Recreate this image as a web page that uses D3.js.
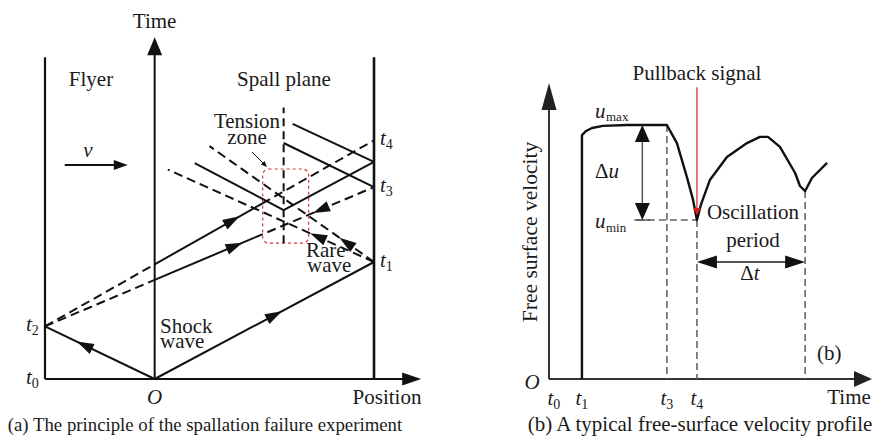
<!DOCTYPE html>
<html>
<head>
<meta charset="utf-8">
<script src="https://cdn.jsdelivr.net/npm/d3@7"></script>
<style>
  body { margin: 0; background: #fff; }
  text { font-family: "Liberation Serif", "Times New Roman", serif; fill: #1a1a1a; }
</style>
</head>
<body>
<svg id="chart" width="880" height="441"></svg>
<script>
// ---------- panel (a): position–time diagram ----------
// position in units of flyer thickness (flyer back = -1, impact face = 0, free surface = 2)
// time in units of t1 (shock arrival at free surface)
const solidWaves = [
  [[0, 0], [2, 1.0]],                          // shock into target
  [[0, 0], [-1, 0.45]],                        // shock into flyer
  [[0, 0.98], [0.98, 1.499]],
  [[0, 0.847], [0.91, 1.208]],
  [[0.365, 1.846], [1.176, 1.444], [2, 1.855]],
  [[1.258, 2.18], [2, 1.855]],
  [[1.176, 2.017], [2, 1.64]]
];
const dashedWaves = [
  [[-1, 0.45], [0, 0.98]],
  [[0.98, 1.499], [2, 2.04]],
  [[-1, 0.45], [0, 0.847]],
  [[0.91, 1.208], [2, 1.64]],
  [[2, 1.0], [0.50, 1.99]],                    // rarefaction from t1
  [[2, 1.0], [0.12, 1.79]]
];
const spallPlane = [[1.176, 1.16], [1.176, 2.32]];
const tensionZone = [[0.985, 1.162], [1.404, 1.795]];
// arrow heads: segment (direction of travel) and fraction along it
const waveArrows = [
  { seg: [[0, 0], [2, 1.0]], at: 0.58 },
  { seg: [[0, 0], [-1, 0.45]], at: 0.71 },
  { seg: [[0, 0.98], [0.98, 1.499]], at: 0.79 },
  { seg: [[0, 0.847], [0.91, 1.208]], at: 0.88 },
  { seg: [[2, 1.64], [0.91, 1.208]], at: 0.51 },
  { seg: [[2, 1.0], [0.50, 1.99]], at: 0.21 },
  { seg: [[2, 1.0], [0.12, 1.79]], at: 0.31 }
];
const timeMarksA = ["0", "2", "1", "3", "4"];
const timeMarksAt = [0, 0.45, 1.0, 1.64, 2.04];

// ---------- panel (b): free-surface velocity profile ----------
const profileTime = [1.02, 1.02, 1.15, 1.33, 1.67, 2.41, 3.65, 3.96, 4.27, 4.46, 4.58, 4.71,
  4.98, 5.51, 6.13, 6.53, 6.78, 7.15, 7.62, 7.77, 7.93, 8.14, 8.61];
const profileVel = [0, 8.24, 8.38, 8.48, 8.55, 8.58, 8.58, 7.97, 6.82, 6.05, 5.37, 5.91,
  6.72, 7.50, 7.97, 8.18, 8.18, 7.84, 6.96, 6.52, 6.35, 6.79, 7.30];
const uMax = 8.58, uMin = 5.37;
const t3 = 3.65, t4 = 4.58, tNext = 7.93;
const timeTickNames = ["0", "1", "3", "4"];
const timeTickAt = [0.15, 1.02, 3.65, 4.58];

const svg = d3.select("#chart");
svg.append("rect").attr("width", 880).attr("height", 441).attr("fill", "#fff");

function head(g, x0, y0, x1, y1, at, len, hw, color) {
  const tx = x0 + (x1 - x0) * at, ty = y0 + (y1 - y0) * at;
  const a = Math.atan2(y1 - y0, x1 - x0);
  const c = Math.cos(a), s = Math.sin(a);
  const bx = tx - len * c, by = ty - len * s;
  g.append("polygon")
    .attr("points", [[tx, ty], [bx - hw * s, by + hw * c], [bx + hw * s, by - hw * c]].map(p => p.join(",")).join(" "))
    .attr("fill", color);
}

function label(g, x, y, main, sub, anchor) {
  const t = g.append("text").attr("x", x).attr("y", y)
    .attr("text-anchor", anchor || "start").style("font-size", "21px");
  t.append("tspan").style("font-style", "italic").text(main);
  if (sub) t.append("tspan").attr("dy", 4).style("font-size", "14px").style("font-style", "normal").text(sub);
  return t;
}

function plain(g, x, y, s, anchor, size) {
  return g.append("text").attr("x", x).attr("y", y).attr("text-anchor", anchor || "middle")
    .style("font-size", (size || 21) + "px").text(s);
}

// ---- draw (a)
const xa = d3.scaleLinear().domain([-1, 2]).range([45, 374]);
const ya = d3.scaleLinear().domain([0, 3]).range([379, 28]);
const ga = svg.append("g");
const lineA = d3.line().x(d => xa(d[0])).y(d => ya(d[1]));

// frame
ga.append("line").attr("x1", xa(-1)).attr("x2", xa(-1)).attr("y1", ya(0)).attr("y2", ya(2.75))
  .attr("stroke", "#111").attr("stroke-width", 2.2);
ga.append("line").attr("x1", xa(2)).attr("x2", xa(2)).attr("y1", ya(0)).attr("y2", ya(2.75))
  .attr("stroke", "#111").attr("stroke-width", 2.6);
ga.append("line").attr("x1", xa(0)).attr("x2", xa(0)).attr("y1", ya(0)).attr("y2", ya(2.78))
  .attr("stroke", "#111").attr("stroke-width", 2);
head(ga, xa(0), ya(0), xa(0), ya(2.92), 1, 18, 7.5, "#111");
ga.append("line").attr("x1", xa(-1)).attr("x2", xa(2.3)).attr("y1", ya(0)).attr("y2", ya(0))
  .attr("stroke", "#111").attr("stroke-width", 2.2);
head(ga, xa(-1), ya(0), xa(2.43), ya(0), 1, 19, 6.5, "#111");

// tension zone box
ga.append("rect")
  .attr("x", xa(tensionZone[0][0])).attr("y", ya(tensionZone[1][1]))
  .attr("width", xa(tensionZone[1][0]) - xa(tensionZone[0][0]))
  .attr("height", ya(tensionZone[0][1]) - ya(tensionZone[1][1]))
  .attr("rx", 6).attr("fill", "none").attr("stroke", "#d23c3c")
  .attr("stroke-width", 1.2).attr("stroke-dasharray", "3,3");

ga.append("path").attr("d", lineA(spallPlane)).attr("fill", "none")
  .attr("stroke", "#111").attr("stroke-width", 2).attr("stroke-dasharray", "8,5");

solidWaves.forEach(w => ga.append("path").attr("d", lineA(w)).attr("fill", "none")
  .attr("stroke", "#111").attr("stroke-width", 2));
dashedWaves.forEach(w => ga.append("path").attr("d", lineA(w)).attr("fill", "none")
  .attr("stroke", "#111").attr("stroke-width", 2).attr("stroke-dasharray", "9,5"));
waveArrows.forEach(a => head(ga, xa(a.seg[0][0]), ya(a.seg[0][1]), xa(a.seg[1][0]), ya(a.seg[1][1]),
  a.at, 17, 5.5, "#111"));

// flyer velocity arrow
ga.append("line").attr("x1", xa(-0.82)).attr("x2", xa(-0.3)).attr("y1", ya(1.83)).attr("y2", ya(1.83))
  .attr("stroke", "#111").attr("stroke-width", 2);
head(ga, xa(-0.82), ya(1.83), xa(-0.245), ya(1.83), 1, 14, 5, "#111");

// tension zone pointer
ga.append("line").attr("x1", 252).attr("y1", 152).attr("x2", 264).attr("y2", 164)
  .attr("stroke", "#111").attr("stroke-width", 1);
head(ga, 252, 152, 267, 167, 1, 6, 2.5, "#111");

plain(ga, xa(0), 28, "Time");
plain(ga, 91, 86, "Flyer");
plain(ga, 284, 86, "Spall plane");
label(ga, 88, 157, "v", null, "middle");
plain(ga, 247, 128, "Tension");
plain(ga, 247, 144, "zone");
plain(ga, 160, 333, "Shock", "start");
plain(ga, 160, 348, "wave", "start");
plain(ga, 306, 257, "Rare", "start");
plain(ga, 307, 272, "wave", "start");
label(ga, xa(0), 404, "O", null, "middle");
plain(ga, 387, 404, "Position");
timeMarksA.forEach((n, i) => {
  const left = n === "0" || n === "2";
  label(ga, left ? 26 : 380, ya(timeMarksAt[i]) + 5, "t", n, "start");
});
plain(ga, 205, 431, "(a) The principle of the spallation failure experiment", "middle", 18.8);

// ---- draw (b)
const xb = d3.scaleLinear().domain([0, 10]).range([549, 872]);
const yb = d3.scaleLinear().domain([0, 10]).range([379, 83]);
const gb = svg.append("g");

gb.append("line").attr("x1", xb(0)).attr("x2", xb(0)).attr("y1", yb(0)).attr("y2", yb(9.2))
  .attr("stroke", "#333").attr("stroke-width", 2);
head(gb, xb(0), yb(0), xb(0), yb(10), 1, 27, 7.5, "#222");
gb.append("line").attr("x1", xb(0)).attr("x2", xb(9.5)).attr("y1", yb(0)).attr("y2", yb(0))
  .attr("stroke", "#333").attr("stroke-width", 2);
head(gb, xb(0), yb(0), xb(10), yb(0), 1, 18, 8, "#222");

const dashed = (x1, y1, x2, y2) => gb.append("line").attr("x1", x1).attr("y1", y1)
  .attr("x2", x2).attr("y2", y2).attr("stroke", "#666").attr("stroke-width", 1.6)
  .attr("stroke-dasharray", "7,4");
dashed(xb(t3), yb(uMax), xb(t3), yb(0));
dashed(xb(t4), yb(uMin), xb(t4), yb(0));
dashed(xb(tNext), yb(6.35), xb(tNext), yb(0));
dashed(xb(2.72), yb(uMin), xb(t4), yb(uMin));

// Δu arrow
gb.append("line").attr("x1", xb(2.89)).attr("x2", xb(2.89)).attr("y1", yb(uMax) + 15).attr("y2", yb(uMin) - 15)
  .attr("stroke", "#555").attr("stroke-width", 1.5);
head(gb, xb(2.89), yb((uMax + uMin) / 2), xb(2.89), yb(uMax), 1, 17, 7.5, "#111");
head(gb, xb(2.89), yb((uMax + uMin) / 2), xb(2.89), yb(uMin), 1, 17, 7.5, "#111");
gb.append("line").attr("x1", xb(2.89) - 8).attr("x2", xb(2.89) + 8).attr("y1", yb(uMin)).attr("y2", yb(uMin))
  .attr("stroke", "#555").attr("stroke-width", 1.5);

// Δt arrow
const dtY = yb(3.95);
gb.append("line").attr("x1", xb(t4) + 15).attr("x2", xb(tNext) - 15).attr("y1", dtY).attr("y2", dtY)
  .attr("stroke", "#555").attr("stroke-width", 2);
head(gb, xb((t4 + tNext) / 2), dtY, xb(t4), dtY, 1, 20, 6.5, "#111");
head(gb, xb((t4 + tNext) / 2), dtY, xb(tNext), dtY, 1, 20, 6.5, "#111");

// profile
gb.append("path")
  .attr("d", d3.line().x((d, i) => xb(profileTime[i])).y(d => yb(d))(profileVel))
  .attr("fill", "none").attr("stroke", "#111").attr("stroke-width", 2.4)
  .attr("stroke-linejoin", "round");

// pullback signal
gb.append("line").attr("x1", xb(t4)).attr("x2", xb(t4)).attr("y1", yb(9.86)).attr("y2", yb(5.75))
  .attr("stroke", "#d02020").attr("stroke-width", 1.2);
head(gb, xb(t4), yb(7), xb(t4), yb(5.54), 1, 7, 4, "#d02020");

plain(gb, xb(t4), 80, "Pullback signal");
label(gb, 595, 118, "u", null, "start");
gb.append("text").attr("x", 606).attr("y", 121).style("font-size", "13px").text("max");
const du = gb.append("text").attr("x", 595).attr("y", 178).style("font-size", "21px");
du.append("tspan").text("Δ");
du.append("tspan").style("font-style", "italic").text("u");
label(gb, 595, 228, "u", null, "start");
gb.append("text").attr("x", 606).attr("y", 232).style("font-size", "13px").text("min");
plain(gb, 753, 219, "Oscillation");
plain(gb, 753, 247, "period");
const dt = gb.append("text").attr("x", 750).attr("y", 280).attr("text-anchor", "middle").style("font-size", "21px");
dt.append("tspan").text("Δ");
dt.append("tspan").style("font-style", "italic").text("t");
plain(gb, 817, 360, "(b)", "start");
label(gb, 532, 389, "O", null, "middle");
plain(gb, 849, 404, "Time");
timeTickNames.forEach((n, i) => label(gb, xb(timeTickAt[i]), 405, "t", n, "middle"));
gb.append("text").attr("transform", "translate(537,232) rotate(-90)").attr("text-anchor", "middle")
  .style("font-size", "21.5px").text("Free surface velocity");
plain(gb, 700, 431, "(b) A typical free-surface velocity profile");
</script>
</body>
</html>
